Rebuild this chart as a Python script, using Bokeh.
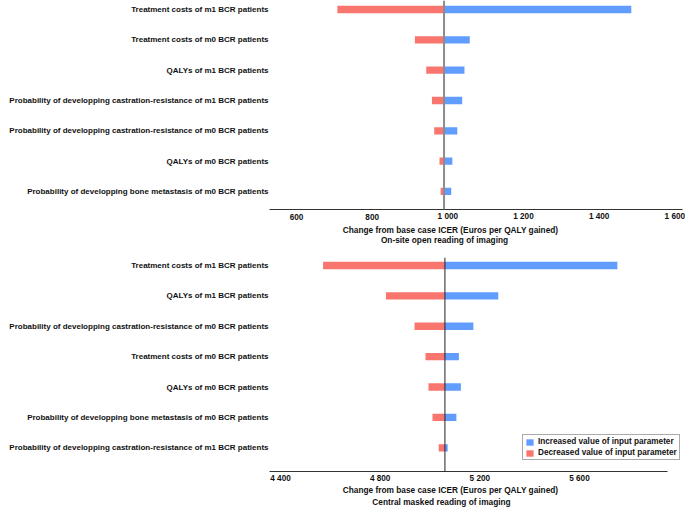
from bokeh.plotting import figure
from bokeh.layouts import column
from bokeh.models import Range1d, FixedTicker, Span, Legend, LegendItem, Label
from bokeh.core.properties import value
from bokeh.embed import file_html
from bokeh.resources import INLINE

# ---------------- data ----------------
labels_top = [
    "Treatment costs of m1 BCR patients",
    "Treatment costs of m0 BCR patients",
    "QALYs of m1 BCR patients",
    "Probability of developping castration-resistance of m1 BCR patients",
    "Probability of developping castration-resistance of m0 BCR patients",
    "QALYs of m0 BCR patients",
    "Probability of developping bone metastasis of m0 BCR patients",
]
low_top = [708, 913, 943, 958, 964, 978, 981]
high_top = [1485, 1058, 1044, 1038, 1025, 1012, 1009]
base_top = 990
ticks_top = [600, 800, 1000, 1200, 1400, 1600]
subtitle_top = "On-site open reading of imaging"

labels_bot = [
    "Treatment costs of m1 BCR patients",
    "QALYs of m1 BCR patients",
    "Probability of developping castration-resistance of m0 BCR patients",
    "Treatment costs of m0 BCR patients",
    "QALYs of m0 BCR patients",
    "Probability of developping bone metastasis of m0 BCR patients",
    "Probability of developping castration-resistance of m1 BCR patients",
]
low_bot = [4571, 4823, 4938, 4982, 4994, 5010, 5035]
high_bot = [5752, 5274, 5174, 5116, 5124, 5106, 5071]
base_bot = 5060
ticks_bot = [4400, 4800, 5200, 5600]
subtitle_bot = "Central masked reading of imaging"

axis_title = "Change from base case ICER (Euros per QALY gained)"
legend_labels = ["Increased value of input parameter", "Decreased value of input parameter"]

BLUE = "#619CFF"
RED = "#F8766D"
FONT = "Liberation Sans"
TXT = "#111111"
W = 685
BL, BR, BB = 269, 0, 2


def fmt(v):
    return f"{v:,}".replace(",", " ")


def panel(labels, low, high, base, ticks, xr, yr, frame_h,
          line_color, line_width, axis_bounds, legend=False):
    n = len(labels)
    ys = list(range(1, n + 1))
    p = figure(width=W, height=frame_h + BB, output_backend="svg", toolbar_location=None,
               x_range=xr, y_range=Range1d(*yr),
               min_border_left=BL, min_border_right=BR, min_border_top=0,
               min_border_bottom=BB)
    p.outline_line_color = None
    p.xgrid.visible = False
    p.ygrid.visible = False

    red = p.hbar(y=ys, left=low, right=[base] * n, height=0.24,
                 fill_color=RED, line_color=None)
    blue = p.hbar(y=ys, left=[base] * n, right=high, height=0.24,
                  fill_color=BLUE, line_color=None)
    p.add_layout(Span(location=base, dimension="height",
                      line_color=line_color, line_width=line_width))

    ya = p.yaxis[0]
    ya.ticker = FixedTicker(ticks=ys)
    ya.major_label_overrides = {y: l for y, l in zip(ys, labels)}
    ya.axis_line_color = None
    ya.major_tick_line_color = None
    ya.minor_tick_line_color = None
    ya.major_tick_in = 0
    ya.major_tick_out = 0
    ya.major_label_standoff = 1
    ya.major_label_text_font = FONT
    ya.major_label_text_font_style = "bold"
    ya.major_label_text_font_size = "8px"
    ya.major_label_text_color = TXT

    # x axis: line only, its labels are drawn in the caption strip below
    xa = p.xaxis[0]
    xa.ticker = FixedTicker(ticks=ticks)
    xa.major_label_overrides = {t: "" for t in ticks}
    xa.bounds = axis_bounds
    xa.axis_line_color = "#333333"
    xa.axis_line_width = 1
    xa.major_tick_line_color = None
    xa.minor_tick_line_color = None
    xa.major_tick_in = 0
    xa.major_tick_out = 0
    xa.major_label_standoff = 0
    xa.major_label_text_font_size = "0px"

    if legend:
        lg = Legend(items=[LegendItem(label=legend_labels[0], renderers=[blue]),
                           LegendItem(label=legend_labels[1], renderers=[red])],
                    location=(253, 11))
        lg.border_line_color = "#555555"
        lg.border_line_width = 1
        lg.background_fill_color = "white"
        lg.background_fill_alpha = 1
        lg.padding = 2
        lg.spacing = 2
        lg.margin = 0
        lg.glyph_height = 8
        lg.glyph_width = 9
        lg.label_standoff = 4
        lg.label_height = 9
        lg.label_text_font = FONT
        lg.label_text_font_style = "bold"
        lg.label_text_font_size = "8.2px"
        lg.label_text_color = TXT
        lg.label_text_line_height = 1.0
        p.add_layout(lg)
    return p


def caption(xr, ticks, tick_y, lines, line_x, line_y, height):
    # strip under a chart: tick labels (on the chart's x scale) and 2-line title
    p = figure(width=W, height=height, output_backend="svg", toolbar_location=None,
               x_range=xr, y_range=Range1d(height, 0),
               x_axis_location=None, y_axis_location=None,
               min_border_left=BL, min_border_right=BR, min_border_top=0,
               min_border_bottom=0)
    p.outline_line_color = None
    p.xgrid.visible = False
    p.ygrid.visible = False
    p.text(x=ticks, y=[tick_y] * len(ticks), text=[fmt(t) for t in ticks],
           text_align="center", text_baseline="middle",
           text_font=value(FONT), text_font_style="bold", text_font_size="8.2px",
           text_color=TXT)
    for txt, lx, ly in zip(lines, line_x, line_y):
        p.add_layout(Label(x=lx, y=ly, x_units="screen", y_units="data", text=txt,
                           text_align="center", text_baseline="middle",
                           text_font=FONT, text_font_style="bold",
                           text_font_size="8.3px", text_color=TXT))
    return p


xr_top = Range1d(528.6, 1628.3)
xr_bot = Range1d(4355.9, 6025.5)

p1 = panel(labels_top, low_top, high_top, base_top, ticks_top, xr_top,
           (7.594, 0.703), 209, "#8c8c8c", 2, (528.6, 1619.6))
t1 = caption(xr_top, ticks_top, 5, [axis_title, subtitle_top],
             [181, 175], [18.3, 28.3], 46)
p2 = panel(labels_bot, low_bot, high_bot, base_bot, ticks_bot, xr_bot,
           (7.781, 0.737), 214, "#222222", 1, (4355.9, 5954.4), legend=True)
t2 = caption(xr_bot, ticks_bot, 5, [axis_title, subtitle_bot],
             [181, 172], [16.3, 28.7], 34)

p = column(p1, t1, p2, t2, spacing=0)
open("out.html", "w").write(file_html(p, INLINE))
